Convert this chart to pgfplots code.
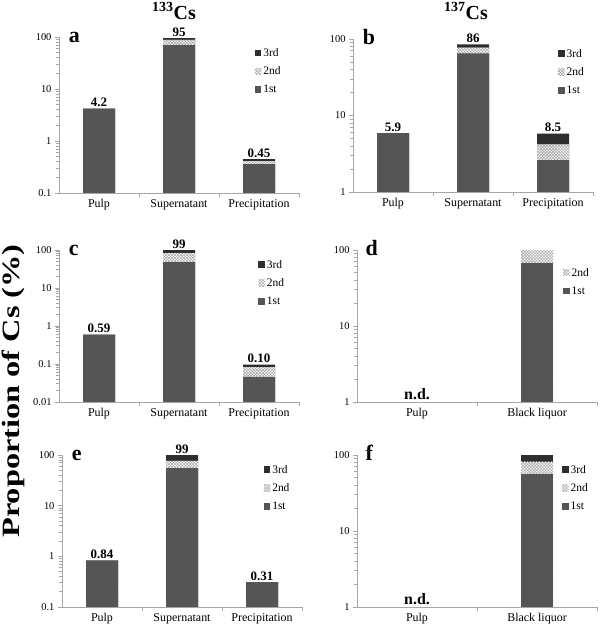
\documentclass[border=0pt]{standalone}
\usepackage{fontspec}
\setmainfont{Liberation Serif}
\newfontfamily\lib{Liberation Serif}
\usepackage{pgfplots}
\pgfplotsset{compat=1.18}
\usetikzlibrary{patterns}

\definecolor{axisgray}{HTML}{A6A6A6}
\definecolor{firstc}{HTML}{555555}
\definecolor{thirdc}{HTML}{2E2E2E}

\tikzset{
  bthird/.style={fill=thirdc, draw=none},
  bsecond/.style={fill=white, draw=none, postaction={pattern=crosshatch, pattern color=gray!75}},
  bfirst/.style={fill=firstc, draw=none},
  vlab/.style={font=\lib\bfseries\fontsize{13}{13}\selectfont, anchor=south, inner sep=1.5bp},
  plab/.style={font=\lib\bfseries\fontsize{22}{22}\selectfont, anchor=base west, inner sep=0pt},
  ndlab/.style={font=\lib\bfseries\fontsize{16}{16}\selectfont, anchor=south, inner sep=2bp},
}

\pgfplotsset{
  panel/.style={
    scale only axis, width=240bp,
    ybar, bar width=32bp,
    log origin=infty,
    xmin=-0.5,
    axis x line*=bottom, axis y line*=left,
    axis line style={draw=axisgray, line width=0.8bp, -},
    tick style={draw=axisgray, line width=0.8bp},
    tick align=outside, major tick length=4bp,
    extra x tick style={major tick length=0pt},
    xticklabel style={font=\lib\fontsize{12}{12}\selectfont, yshift=-3bp},
    yticklabel style={font=\lib\fontsize{10.5}{10.5}\selectfont},
    clip=false,
    legend style={draw=none, fill=none, font=\lib\fontsize{11.5}{11.5}\selectfont,
      anchor=north west, row sep=5bp, inner sep=0pt},
    legend cell align=left,
    legend image code/.code={\fill[##1] (0bp,-3bp) rectangle (6.5bp,3.5bp);},
  },
  threecat/.style={
    xmax=2.5, xtick={0.5,1.5,2.5}, xticklabels={,,},
    extra x ticks={0,1,2},
    extra x tick labels={Pulp,Supernatant,Precipitation},
  },
  twocat/.style={
    xmax=1.5, xtick={0.5,1.5}, xticklabels={,},
    extra x ticks={0,1},
    extra x tick labels={Pulp,Black liquor},
  },
}

\begin{document}
\begin{tikzpicture}
\useasboundingbox (0bp,0bp) rectangle (600bp,630bp);

% titles and common label
\node[font=\lib\bfseries\fontsize{20}{20}\selectfont] at (174bp,619bp) {\textsuperscript{133}Cs};
\node[font=\lib\bfseries\fontsize{20}{20}\selectfont] at (466bp,619bp) {\textsuperscript{137}Cs};
\node[rotate=90, xscale=1.3, anchor=base, inner sep=0pt, font=\lib\bfseries\fontsize{25}{25}\selectfont]
  at (19bp,239bp) {Proportion of Cs (\%)};

% (a) 133Cs
\begin{axis}[ymode=log, panel, threecat, at={(59bp,437bp)}, anchor=south west, height=156bp,
  ymin=0.1, ymax=100, ytick={0.1,1,10,100}, yticklabels={0.1,1,10,100},
  legend style={at={(0.815,0.94)}}]
\addplot[bar shift=0pt, bthird] coordinates {(0,4.2) (1,95) (2,0.45)};
\addplot[bar shift=0pt, bsecond] coordinates {(0,4.2) (1,88) (2,0.41)};
\addplot[bar shift=0pt, bfirst] coordinates {(0,4.2) (1,70) (2,0.36)};
\legend{3rd,2nd,1st}
\node[vlab] at (axis cs:0,4.2) {4.2};
\node[vlab] at (axis cs:1,95) {95};
\node[vlab] at (axis cs:2,0.45) {0.45};
\node[plab, yshift=-6bp] at (rel axis cs:0.04,1) {a};
\end{axis}

% (b) 137Cs
\begin{axis}[ymode=log, panel, threecat, at={(353bp,438bp)}, anchor=south west, height=153bp,
  ymin=1, ymax=100, ytick={1,10,100}, yticklabels={1,10,100},
  legend style={at={(0.854,0.948)}}]
\addplot[bar shift=0pt, bthird] coordinates {(0,5.9) (1,85) (2,5.8)};
\addplot[bar shift=0pt, bsecond] coordinates {(0,5.9) (1,77) (2,4.2)};
\addplot[bar shift=0pt, bfirst] coordinates {(0,5.9) (1,65) (2,2.6)};
\legend{3rd,2nd,1st}
\node[vlab] at (axis cs:0,5.9) {5.9};
\node[vlab] at (axis cs:1,85) {86};
\node[vlab] at (axis cs:2,5.8) {8.5};
\node[plab, yshift=-6bp] at (rel axis cs:0.04,1) {b};
\end{axis}

% (c) 133Cs
\begin{axis}[ymode=log, panel, threecat, at={(59bp,228bp)}, anchor=south west, height=152bp,
  ymin=0.01, ymax=100, ytick={0.01,0.1,1,10,100}, yticklabels={0.01,0.1,1,10,100},
  legend style={at={(0.83,0.947)}}]
\addplot[bar shift=0pt, bthird] coordinates {(0,0.59) (1,99) (2,0.096)};
\addplot[bar shift=0pt, bsecond] coordinates {(0,0.59) (1,83) (2,0.083)};
\addplot[bar shift=0pt, bfirst] coordinates {(0,0.59) (1,48) (2,0.045)};
\legend{3rd,2nd,1st}
\node[vlab] at (axis cs:0,0.59) {0.59};
\node[vlab] at (axis cs:1,99) {99};
\node[vlab] at (axis cs:2,0.096) {0.10};
\node[plab, yshift=-6bp] at (rel axis cs:0.04,1) {c};
\end{axis}

% (d) 137Cs
\begin{axis}[ymode=log, panel, twocat, at={(357bp,228bp)}, anchor=south west, height=152bp,
  ymin=1, ymax=100, ytick={1,10,100}, yticklabels={1,10,100},
  legend style={at={(0.858,0.895)}}]
\addplot[bar shift=0pt, bsecond] coordinates {(1,99)};
\addplot[bar shift=0pt, bfirst] coordinates {(1,67)};
\legend{2nd,1st}
\node[ndlab] at (axis cs:0,1) {n.d.};
\node[plab, yshift=-6bp] at (rel axis cs:0.035,1) {d};
\end{axis}

% (e) 133Cs
\begin{axis}[ymode=log, panel, threecat, at={(62bp,23bp)}, anchor=south west, height=152bp,
  ymin=0.1, ymax=100, ytick={0.1,1,10,100}, yticklabels={0.1,1,10,100},
  legend style={at={(0.84,0.947)}}]
\addplot[bar shift=0pt, bthird] coordinates {(0,0.83) (1,99) (2,0.31)};
\addplot[bar shift=0pt, bsecond] coordinates {(0,0.83) (1,77) (2,0.31)};
\addplot[bar shift=0pt, bfirst] coordinates {(0,0.83) (1,55) (2,0.31)};
\legend{3rd,2nd,1st}
\node[vlab] at (axis cs:0,0.83) {0.84};
\node[vlab] at (axis cs:1,99) {99};
\node[vlab] at (axis cs:2,0.31) {0.31};
\node[plab, yshift=-6bp] at (rel axis cs:0.04,1) {e};
\end{axis}

% (f) 137Cs
\begin{axis}[ymode=log, panel, twocat, at={(357bp,23bp)}, anchor=south west, height=152bp,
  ymin=1, ymax=100, ytick={1,10,100}, yticklabels={1,10,100},
  legend style={at={(0.854,0.947)}}]
\addplot[bar shift=0pt, bthird] coordinates {(1,99)};
\addplot[bar shift=0pt, bsecond] coordinates {(1,82)};
\addplot[bar shift=0pt, bfirst] coordinates {(1,57)};
\legend{3rd,2nd,1st}
\node[ndlab] at (axis cs:0,1) {n.d.};
\node[plab, yshift=-6bp] at (rel axis cs:0.035,1) {f};
\end{axis}

\end{tikzpicture}
\end{document}
